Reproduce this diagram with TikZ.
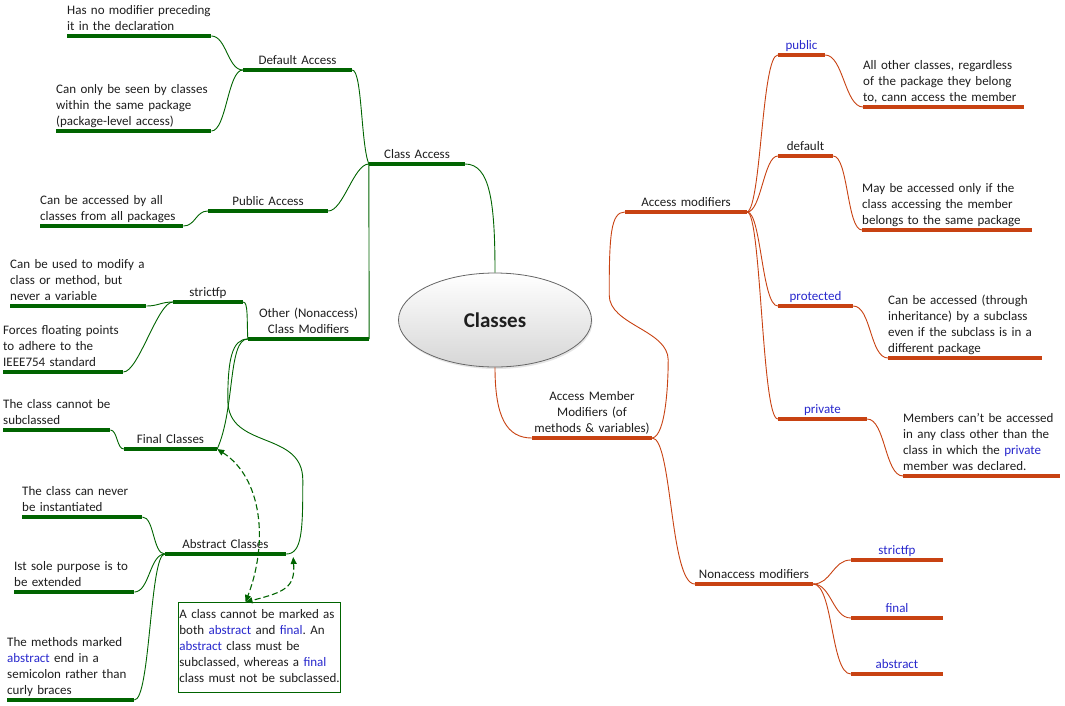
\documentclass[tikz,border=0pt]{standalone}
\usepackage{fontspec}
\setmainfont{Carlito}
\usepackage{tikz}
\usetikzlibrary{arrows.meta,shapes.geometric,shadows}
\definecolor{leafG}{RGB}{0,100,0}
\definecolor{leafR}{RGB}{200,66,18}
\definecolor{kwblue}{RGB}{40,40,205}
\definecolor{ink}{RGB}{30,30,30}
\newcommand{\kw}[1]{\textcolor{kwblue}{#1}}
\frenchspacing
\hyphenpenalty=10000
\exhyphenpenalty=10000

\begin{document}
\begin{tikzpicture}[x=1pt, y=-1pt,
  every node/.style={font=\fontsize{13}{16}\selectfont, text=ink},
  topic/.style={anchor=south, align=center, inner xsep=0pt, inner ysep=0.2pt,
                text width=#1pt, execute at end node=\strut},
  leaf/.style={anchor=south west, align=left, inner xsep=0pt, inner ysep=0.2pt,
               text width=#1pt, execute at end node=\strut},
  barG/.style={append after command={(\tikzlastnode.south west)
               edge[draw=leafG, line width=3.6pt] (\tikzlastnode.south east)}},
  barR/.style={append after command={(\tikzlastnode.south west)
               edge[draw=leafR, line width=3.6pt] (\tikzlastnode.south east)}},
  note/.style={draw=leafG, line width=0.8pt, anchor=north west, align=left,
               text width=160pt, inner xsep=1pt, inner ysep=5pt,
               execute at begin node=\strut, execute at end node=\strut},
  linkG/.style={draw=leafG, line width=0.9pt},
  linkR/.style={draw=leafR, line width=0.9pt},
  dashlink/.style={draw=leafG, line width=1.1pt, dash pattern=on 6pt off 3pt,
                   {Triangle[length=7pt,width=6pt]}-{Triangle[length=7pt,width=6pt]}},
]
\path[use as bounding box, fill=white] (0,0) rectangle (1065,705);

% Centre
\node[ellipse, minimum width=193pt, minimum height=94pt, draw=black!60, line width=0.8pt,
      top color=white, bottom color=black!16,
      drop shadow={opacity=0.2, shadow xshift=1pt, shadow yshift=-2pt},
      font=\fontsize{21}{24}\selectfont\bfseries] (cls) at (495,320) {Classes};

% Left: class access
\node[topic=96, barG] (clsacc) at (417,164) {Class Access};
\node[topic=109, barG] (dflt) at (297.5,70) {Default Access};
\node[leaf=144, barG] (hasno) at (67,36) {Has no modifier preceding\\it in the declaration};
\node[leaf=155, barG] (seen) at (56,131) {Can only be seen by classes\\within the same package\\(package-level access)};
\node[topic=120, barG] (pubacc) at (268,211) {Public Access};
\node[leaf=143, barG] (allpkg) at (40,226) {Can be accessed by all\\classes from all packages};

% Left: other modifiers
\node[topic=121, barG] (other) at (308.5,339) {Other (Nonaccess)\\Class Modifiers};
\node[topic=70, barG] (sfp) at (208,302) {strictfp};
\node[leaf=136, barG] (modify) at (10,306) {Can be used to modify a\\class or method, but\\never a variable};
\node[leaf=120, barG] (ieee) at (3,372) {Forces~floating~points\\to adhere to the\\IEEE754 standard};
\node[topic=93, barG] (finalcl) at (170.5,449) {Final Classes};
\node[leaf=107, barG] (nosub) at (3,430) {The~class~cannot~be\\subclassed};
\node[topic=121, barG] (abscl) at (225.5,554) {Abstract Classes};
\node[leaf=120, barG] (noinst) at (22,517) {The class can never\\be instantiated};
\node[leaf=120, barG] (extend) at (14,592) {Ist sole purpose is to\\be extended};
\node[leaf=127, barG] (semi) at (7,700) {The methods marked\\\kw{abstract} end in a\\semicolon rather than\\curly braces};
\node[note] (both) at (178,602) {A class cannot be marked as\\both \kw{abstract} and \kw{final}. An\\\kw{abstract} class must be\\subclassed, whereas a \kw{final}\\class~must~not~be~subclassed.};

% Right: access member modifiers
\node[topic=120, barR] (member) at (592,438) {Access Member\\Modifiers (of\\methods \& variables)};
\node[topic=122, barR] (access) at (686,212) {Access modifiers};
\node[topic=47, barR] (pubm) at (801.5,55) {\kw{public}};
\node[leaf=161, barR] (pubtxt) at (863,107) {All other classes, regardless\\of the package they belong\\to, cann access the member};
\node[topic=55, barR] (dflm) at (805.5,156) {default};
\node[leaf=170, barR] (dfltxt) at (862,230) {May be accessed only if the\\class accessing the member\\belongs to the same package};
\node[topic=75, barR] (protm) at (815.5,306) {\kw{protected}};
\node[leaf=154, barR] (prottxt) at (888,358) {Can be accessed (through\\inheritance) by a subclass\\even if the subclass is in a\\different package};
\node[topic=89, barR] (privm) at (822.5,419) {\kw{private}};
\node[leaf=157, barR] (privtxt) at (903,476) {Members can't be accessed\\in any class other than the\\class in which the \kw{private}\\member was declared.};
\node[topic=118, barR] (nonacc) at (754,584) {Nonaccess modifiers};
\node[topic=92, barR] (sfpm) at (897,560) {\kw{strictfp}};
\node[topic=92, barR] (finm) at (897,618) {\kw{final}};
\node[topic=92, barR] (absm) at (897,674) {\kw{abstract}};

% Green links
\draw[linkG] (cls.north) .. controls +(0,-70) and +(25,0) .. (clsacc.south east);
\draw[linkG] (clsacc.south west) .. controls +(-8,-20) and +(10,0) .. (dflt.south east);
\draw[linkG] (clsacc.south west) .. controls +(-15,0) and +(15,0) .. (pubacc.south east);
\draw[linkG] (clsacc.south west) -- (other.south east);
\draw[linkG] (dflt.south west) .. controls +(-15,0) and +(15,0) .. (hasno.south east);
\draw[linkG] (dflt.south west) .. controls +(-15,0) and +(15,0) .. (seen.south east);
\draw[linkG] (pubacc.south west) .. controls +(-12,0) and +(12,0) .. (allpkg.south east);
\draw[linkG] (other.south west) .. controls +(-1,-20) and +(5,0) .. (sfp.south east);
\draw[linkG] (other.south west) .. controls +(-20,0) and +(18,-40) .. (finalcl.south east);
\draw[linkG] (other.south west) .. controls +(-16,0) and +(0,-40) .. ++(-20,61)
  .. controls +(0,50) and +(0,-50) .. ++(75,80)
  .. controls +(0,50) and +(16,0) .. (abscl.south east);
\draw[linkG] (sfp.south west) .. controls +(-12,0) and +(12,0) .. (modify.south east);
\draw[linkG] (sfp.south west) .. controls +(-15,0) and +(15,0) .. (ieee.south east);
\draw[linkG] (finalcl.south west) .. controls +(-7,0) and +(7,0) .. (nosub.south east);
\draw[linkG] (abscl.south west) .. controls +(-12,0) and +(12,0) .. (noinst.south east);
\draw[linkG] (abscl.south west) .. controls +(-15,0) and +(15,0) .. (extend.south east);
\draw[linkG] (abscl.south west) .. controls +(-15,0) and +(16,0) .. (semi.south east);

% Dashed links to the note
\draw[dashlink] (finalcl.south east) .. controls +(45,29) and +(23,-60) .. (both.107);
\draw[dashlink] ([xshift=7pt,yshift=-3pt]abscl.south east) .. controls +(2,30) and +(40,-10) .. (both.107);

% Red links
\draw[linkR] (cls.south) .. controls +(0,50) and +(-25,0) .. (member.south west);
\draw[linkR] (member.south east) .. controls +(14,-2) and +(0,20) .. ++(16,-78)
  .. controls +(0,-30) and +(0,30) .. ++(-59,-65)
  .. controls +(0,-60) and +(-14,0) .. (access.south west);
\draw[linkR] (member.south east) .. controls +(20,0) and +(-25,0) .. (nonacc.south west);
\draw[linkR] (access.south east) .. controls +(14,-5) and +(-16,0) .. (pubm.south west);
\draw[linkR] (access.south east) .. controls +(14,0) and +(-14,0) .. (dflm.south west);
\draw[linkR] (access.south east) .. controls +(14,0) and +(-16,0) .. (protm.south west);
\draw[linkR] (access.south east) .. controls +(14,0) and +(-16,0) .. (privm.south west);
\draw[linkR] (pubm.south east) .. controls +(18,0) and +(-18,0) .. (pubtxt.south west);
\draw[linkR] (dflm.south east) .. controls +(15,0) and +(-15,0) .. (dfltxt.south west);
\draw[linkR] (protm.south east) .. controls +(18,0) and +(-18,0) .. (prottxt.south west);
\draw[linkR] (privm.south east) .. controls +(18,0) and +(-18,0) .. (privtxt.south west);
\draw[linkR] (nonacc.south east) .. controls +(18,0) and +(-18,0) .. (sfpm.south west);
\draw[linkR] (nonacc.south east) .. controls +(18,0) and +(-18,0) .. (finm.south west);
\draw[linkR] (nonacc.south east) .. controls +(20,0) and +(-20,0) .. (absm.south west);
\end{tikzpicture}
\end{document}
